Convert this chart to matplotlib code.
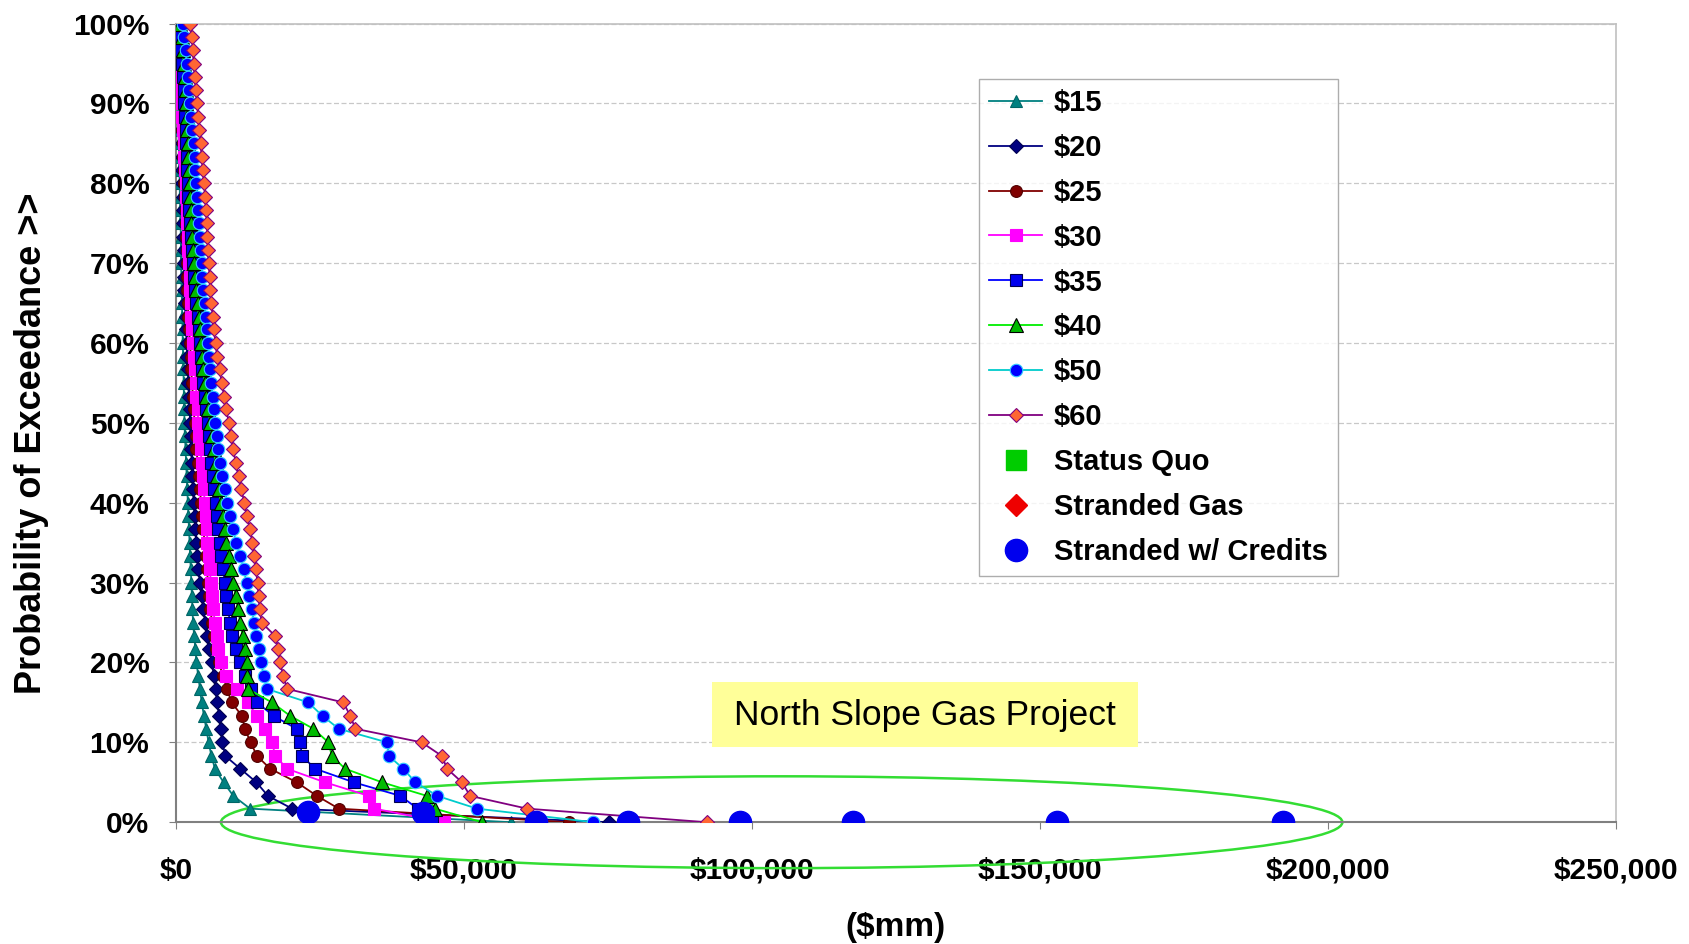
import matplotlib
matplotlib.use('Agg')
import matplotlib.pyplot as plt
from matplotlib.patches import Ellipse, Rectangle
from matplotlib.ticker import FuncFormatter

# exceedance probability grid (%)
prob = [100.0, 98.3, 96.7, 95.0, 93.3, 91.7, 90.0, 88.3, 86.7, 85.0,
        83.3, 81.7, 80.0, 78.3, 76.7, 75.0, 73.3, 71.7, 70.0, 68.3,
        66.7, 65.0, 63.3, 61.7, 60.0, 58.3, 56.7, 55.0, 53.3, 51.7,
        50.0, 48.3, 46.7, 45.0, 43.3, 41.7, 40.0, 38.3, 36.7, 35.0,
        33.3, 31.7, 30.0, 28.3, 26.7, 25.0, 23.3, 21.7, 20.0, 18.3,
        16.7, 15.0, 13.3, 11.7, 10.0, 8.3, 6.7, 5.0, 3.3, 1.7, 0.0]

# values in $ thousands of mm
npv_15 = [0.0, 0.1, 0.2, 0.2, 0.3, 0.3, 0.4, 0.4, 0.5, 0.5,
          0.6, 0.6, 0.7, 0.7, 0.8, 0.8, 0.9, 0.9, 0.9, 1.0,
          1.0, 1.1, 1.1, 1.2, 1.2, 1.3, 1.3, 1.4, 1.4, 1.5,
          1.5, 1.6, 1.7, 1.8, 1.9, 2.0, 2.1, 2.2, 2.3, 2.4,
          2.5, 2.6, 2.7, 2.8, 2.9, 3.0, 3.2, 3.4, 3.6, 3.9,
          4.2, 4.5, 4.9, 5.3, 5.7, 6.2, 6.8, 8.3, 10.0, 12.9, 58.2]
npv_20 = [0.1, 0.2, 0.3, 0.4, 0.5, 0.6, 0.7, 0.8, 0.9, 1.0,
          1.0, 1.1, 1.1, 1.2, 1.2, 1.3, 1.3, 1.4, 1.4, 1.5,
          1.5, 1.6, 1.7, 1.8, 1.9, 2.0, 2.1, 2.2, 2.3, 2.4,
          2.5, 2.6, 2.7, 2.8, 2.9, 3.0, 3.1, 3.3, 3.4, 3.6,
          3.7, 3.9, 4.2, 4.5, 4.8, 5.1, 5.4, 5.8, 6.3, 6.6,
          6.9, 7.2, 7.5, 7.8, 8.1, 8.6, 11.2, 14.0, 16.0, 20.2, 75.2]
npv_25 = [0.2, 0.4, 0.5, 0.6, 0.7, 0.8, 0.9, 1.0, 1.1, 1.2,
          1.3, 1.4, 1.5, 1.6, 1.7, 1.8, 1.8, 1.9, 1.9, 2.0,
          2.0, 2.1, 2.2, 2.3, 2.5, 2.6, 2.7, 2.8, 3.0, 3.1,
          3.3, 3.5, 3.6, 3.8, 4.0, 4.2, 4.4, 4.6, 4.8, 5.0,
          5.2, 5.4, 5.6, 5.8, 6.0, 6.3, 6.6, 7.0, 7.5, 8.2,
          8.9, 9.7, 11.5, 12.0, 13.0, 14.1, 16.4, 21.0, 24.5, 28.3, 68.2]
npv_30 = [0.3, 0.5, 0.6, 0.7, 0.8, 0.9, 1.0, 1.1, 1.2, 1.4,
          1.5, 1.6, 1.7, 1.8, 1.9, 2.0, 2.1, 2.2, 2.3, 2.4,
          2.5, 2.6, 2.7, 2.9, 3.0, 3.2, 3.3, 3.5, 3.6, 3.8,
          3.9, 4.1, 4.3, 4.5, 4.7, 4.9, 5.0, 5.2, 5.4, 5.5,
          5.7, 5.9, 6.1, 6.3, 6.5, 6.8, 7.1, 7.4, 7.8, 8.8,
          10.6, 12.5, 14.1, 15.5, 16.7, 17.3, 19.3, 25.9, 33.5, 34.5, 46.5]
npv_35 = [0.5, 0.7, 0.9, 1.1, 1.3, 1.4, 1.5, 1.6, 1.7, 1.8,
          1.9, 2.0, 2.1, 2.2, 2.3, 2.4, 2.6, 2.8, 3.0, 3.2,
          3.4, 3.6, 3.8, 4.0, 4.2, 4.4, 4.6, 4.8, 5.0, 5.3,
          5.6, 5.8, 6.0, 6.2, 6.4, 6.6, 6.9, 7.1, 7.4, 7.6,
          7.9, 8.2, 8.5, 8.8, 9.1, 9.4, 9.8, 10.4, 11.2, 12.0,
          13.0, 14.1, 17.0, 21.0, 21.6, 21.9, 24.2, 30.9, 39.0, 42.0, 44.5]
npv_40 = [0.8, 1.0, 1.2, 1.4, 1.6, 1.7, 1.8, 1.9, 2.0, 2.1,
          2.2, 2.3, 2.4, 2.5, 2.6, 2.7, 2.8, 3.0, 3.2, 3.4,
          3.6, 3.8, 4.0, 4.2, 4.4, 4.6, 4.8, 5.0, 5.3, 5.6,
          6.0, 6.3, 6.6, 6.9, 7.2, 7.5, 7.8, 8.2, 8.5, 8.8,
          9.2, 9.6, 10.0, 10.4, 10.8, 11.2, 11.6, 12.0, 12.3, 12.4,
          12.5, 16.7, 19.9, 23.9, 26.5, 27.1, 29.4, 35.8, 43.6, 45.0, 53.2]
npv_50 = [1.2, 1.5, 1.7, 1.9, 2.1, 2.3, 2.5, 2.7, 2.9, 3.1,
          3.3, 3.4, 3.6, 3.7, 3.9, 4.0, 4.2, 4.3, 4.5, 4.6,
          4.8, 5.0, 5.2, 5.4, 5.6, 5.8, 6.0, 6.2, 6.4, 6.6,
          6.8, 7.1, 7.4, 7.7, 8.1, 8.5, 8.9, 9.4, 9.9, 10.5,
          11.2, 11.8, 12.3, 12.8, 13.2, 13.6, 14.0, 14.4, 14.8, 15.3,
          15.8, 23.0, 25.5, 28.3, 36.7, 37.0, 39.5, 41.6, 45.4, 52.3, 72.5]
npv_60 = [2.5, 2.8, 3.0, 3.1, 3.3, 3.5, 3.7, 3.9, 4.1, 4.3,
          4.5, 4.7, 4.9, 5.1, 5.3, 5.4, 5.5, 5.6, 5.7, 5.9,
          6.0, 6.2, 6.4, 6.6, 6.9, 7.2, 7.6, 8.0, 8.4, 8.8,
          9.2, 9.6, 10.0, 10.4, 10.9, 11.4, 11.9, 12.4, 12.9, 13.3,
          13.6, 13.9, 14.2, 14.4, 14.6, 14.9, 17.3, 17.8, 18.1, 18.7,
          19.3, 29.1, 30.3, 31.2, 42.7, 46.2, 47.1, 49.7, 51.1, 61.0, 92.2]

credits_x = [23.0, 42.9, 62.5, 78.5, 97.9, 117.6, 153.0, 192.3]
credits_y = [1.3, 1.1, 0.0, 0.0, 0.0, 0.0, 0.0, 0.0]

plt.rcParams['font.family'] = ['Liberation Sans', 'DejaVu Sans']

fig = plt.figure(figsize=(16.9, 9.44), dpi=100)
ax = fig.add_axes([0.104, 0.129, 0.852, 0.846])

series = [
    ('$15', npv_15, '#008080', '^', '#008080', '#006666', 9),
    ('$20', npv_20, '#000080', 'D', '#000080', '#000050', 7),
    ('$25', npv_25, '#800000', 'o', '#800000', '#500000', 8.5),
    ('$30', npv_30, '#ff00ff', 's', '#ff00ff', '#ff00ff', 9),
    ('$35', npv_35, '#0000ff', 's', '#0000ee', '#000050', 9),
    ('$40', npv_40, '#00ee00', '^', '#00bb00', '#000000', 9.5),
    ('$50', npv_50, '#00cccc', 'o', '#0000ff', '#33ccff', 9),
    ('$60', npv_60, '#800080', 'D', '#ff6633', '#800080', 7.5),
]
for label, vals, lc, mk, mfc, mec, ms in series:
    ax.plot([v * 1000 for v in vals], prob, color=lc, lw=1.3, marker=mk,
            markerfacecolor=mfc, markeredgecolor=mec, markersize=ms,
            markeredgewidth=0.8, label=label, zorder=3)

ax.plot([], [], ls='none', marker='s', color='#00cc00', markersize=14, label='Status Quo')
ax.plot([], [], ls='none', marker='D', color='#ee0000', markersize=11, label='Stranded Gas')
ax.plot([v * 1000 for v in credits_x], credits_y, ls='none', marker='o', color='#0000ee',
        markersize=16, label='Stranded w/ Credits', zorder=4)

# highlight ellipse
ell = Ellipse((105200, 0), 194700, 11.5, fill=False, edgecolor='#33dd33', lw=1.8,
              clip_on=False, zorder=2)
ax.add_patch(ell)

# label box
ax.add_patch(Rectangle((93100, 9.4), 73900, 8.1, facecolor='#ffff99', edgecolor='none', zorder=5))
ax.text(130100, 13.4, 'North Slope Gas Project', fontsize=25.5, ha='center', va='center', zorder=6)

ax.set_xlim(0, 250000)
ax.set_ylim(0, 100)
ax.set_xticks(range(0, 250001, 50000))
ax.set_yticks(range(0, 101, 10))
ax.xaxis.set_major_formatter(FuncFormatter(lambda v, _: f'${v:,.0f}'))
ax.yaxis.set_major_formatter(FuncFormatter(lambda v, _: f'{v:.0f}%'))
ax.tick_params(axis='both', labelsize=21.5, length=5, color='#808080')
ax.tick_params(axis='x', pad=20)
ax.tick_params(axis='y', pad=14)
for lab in ax.get_xticklabels() + ax.get_yticklabels():
    lab.set_fontweight('bold')

ax.grid(axis='y', color='#c8c8c8', linestyle=(0, (4, 2)), lw=0.9)
ax.set_axisbelow(True)
for side in ['left', 'bottom']:
    ax.spines[side].set_color('#808080')
    ax.spines[side].set_linewidth(1.5)
for side in ['top', 'right']:
    ax.spines[side].set_color('#c0c0c0')
    ax.spines[side].set_linewidth(1.2)

ax.set_ylabel('Probability of Exceedance >>', fontsize=26, fontweight='bold',
              family=['Liberation Sans Narrow', 'Liberation Sans'])
ax.yaxis.set_label_coords(-0.088, 0.475)
ax.set_xlabel('($mm)', fontsize=24, fontweight='bold')
ax.xaxis.set_label_coords(0.5, -0.112)

ax.legend(loc='upper left', bbox_to_anchor=(0.558, 0.931),
          prop={'weight': 'bold', 'size': 21}, frameon=True, fancybox=False,
          edgecolor='#999999', handlelength=1.8, handletextpad=0.4,
          labelspacing=0.58, borderpad=0.35, borderaxespad=0)

fig.savefig('out.png', dpi=100)
